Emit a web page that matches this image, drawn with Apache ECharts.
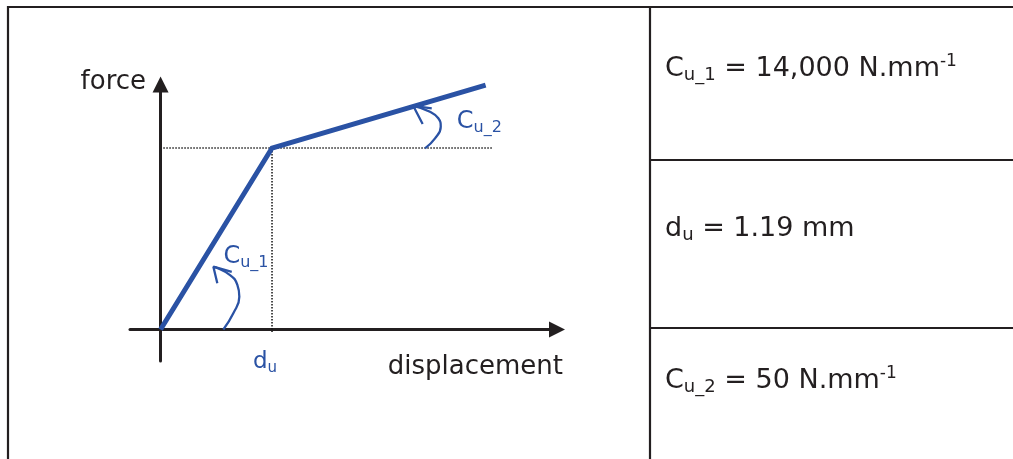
<!DOCTYPE html>
<html>
<head>
<meta charset="utf-8">
<script src="https://cdn.jsdelivr.net/npm/echarts@6/dist/echarts.min.js"></script>
<style>
  html, body { margin: 0; padding: 0; background: #ffffff; }
  #chart { width: 1013px; height: 459px; }
</style>
</head>
<body>
<div id="chart"></div>
<script>
// Bilinear force–displacement law of the connection (schematic diagram)
const displacement = [0, 1.19, 3.47];        // mm
const force = [0, 16660, 22440];             // N

// Dotted guides through the yield point
const guideHX = [0.03, 3.55];
const guideVY = [16660, -230];

// Curved arrows marking the two slopes
const arc1X = [0.670, 0.777, 0.841, 0.820, 0.742, 0.564];
const arc1Y = [0, 1490, 3010, 4090, 5000, 5770];
const head1X = [0.760, 0.564, 0.606];
const head1Y = [5300, 5770, 4240];
const arc2X = [2.823, 2.930, 2.991, 2.965, 2.876, 2.698];
const arc2Y = [16630, 17550, 18620, 19390, 19990, 20520];
const head2X = [2.895, 2.698, 2.798];
const head2Y = [20300, 20520, 18860];

// Axis extents (arrow heads sit at the max ends)
const xRange = [-0.326, 4.232];
const yRange = [-2890, 22490];

// Parameter table
const rowSymbols = ['C', 'd', 'C'];
const rowSubs = ['u_1', 'u', 'u_2'];
const rowValues = [14000, 1.19, 50];
const rowUnits = ['N.mm', 'mm', 'N.mm'];
const rowSups = ['-1', '', '-1'];

const BLUE = '#2a52a4';
const INK = '#231f20';
const FONT = '"DejaVu Sans", Verdana, sans-serif';

const zip = (xs, ys) => xs.map((x, i) => [x, ys[i]]);

const chart = echarts.init(document.getElementById('chart'), null, { renderer: 'canvas' });

const axisCommon = {
  type: 'value',
  axisTick: { show: false },
  axisLabel: { show: false },
  splitLine: { show: false },
  axisLine: {
    show: true,
    onZero: true,
    symbol: ['none', 'triangle'],
    symbolSize: [16, 16],
    lineStyle: { color: INK, width: 3 }
  }
};

const stroke = (color, width, type) => ({ color, width, type: type || 'solid', cap: 'butt' });
const DOTS = [1.4, 1.6];

chart.setOption({
  animation: false,
  backgroundColor: '#ffffff',
  grid: { left: 130, top: 84.5, width: 427, height: 276.5, outerBoundsMode: 'none', containLabel: false },
  xAxis: Object.assign({}, axisCommon, { min: xRange[0], max: xRange[1] }),
  yAxis: Object.assign({}, axisCommon, { min: yRange[0], max: yRange[1] }),
  series: [
    {
      name: 'guideH', type: 'line', silent: true, showSymbol: false, z: 2,
      data: zip(guideHX, [guideVY[0], guideVY[0]]),
      lineStyle: stroke('#111', 1.5, DOTS)
    },
    {
      name: 'guideV', type: 'line', silent: true, showSymbol: false, z: 2,
      data: zip([displacement[1], displacement[1]], guideVY),
      lineStyle: stroke('#111', 1.5, DOTS)
    },
    {
      name: 'force', type: 'line', silent: true, showSymbol: false, z: 5,
      data: zip(displacement, force),
      lineStyle: { color: BLUE, width: 5, join: 'miter', cap: 'butt' }
    },
    {
      name: 'arc1', type: 'line', silent: true, showSymbol: false, smooth: 0.5, z: 4,
      data: zip(arc1X, arc1Y), lineStyle: stroke(BLUE, 2.3)
    },
    {
      name: 'head1', type: 'line', silent: true, showSymbol: false, z: 4,
      data: zip(head1X, head1Y), lineStyle: stroke(BLUE, 2.3)
    },
    {
      name: 'arc2', type: 'line', silent: true, showSymbol: false, smooth: 0.5, z: 4,
      data: zip(arc2X, arc2Y), lineStyle: stroke(BLUE, 2.3)
    },
    {
      name: 'head2', type: 'line', silent: true, showSymbol: false, z: 4,
      data: zip(head2X, head2Y), lineStyle: stroke(BLUE, 2.3)
    }
  ]
});

// Text helpers: rich text with subscripts / superscripts, placed by baseline
function richStyles(size, color) {
  const sub = Math.round(size * 0.66);
  return {
    m: { fontSize: size, fontFamily: FONT, fill: color, color: color, lineHeight: size + 4 },
    sub: { fontSize: sub, fontFamily: FONT, fill: color, color: color, lineHeight: sub + 1, verticalAlign: 'bottom' },
    sup: { fontSize: sub - 1, fontFamily: FONT, fill: color, color: color, lineHeight: sub, verticalAlign: 'top' }
  };
}
function textAt(x, baseline, text, size, color, align) {
  return {
    type: 'text', x: x, y: baseline - 0.346 * size, silent: true, z: 100,
    style: {
      text: text, rich: richStyles(size, color),
      fontSize: size, fontFamily: FONT, fill: color,
      align: align || 'left', verticalAlign: 'middle',
      textAlign: align || 'left', textVerticalAlign: 'middle'
    }
  };
}
function hLine(x1, x2, y) {
  return { type: 'line', silent: true, z: 50, shape: { x1, y1: y, x2, y2: y }, style: { stroke: INK, lineWidth: 2.2 } };
}
function vLine(x, y1, y2) {
  return { type: 'line', silent: true, z: 50, shape: { x1: x, y1, x2: x, y2 }, style: { stroke: INK, lineWidth: 2.2 } };
}

const px = (x, y) => chart.convertToPixel({ gridIndex: 0 }, [x, y]);
const yTop = px(0, yRange[1]);
const xEnd = px(xRange[1], 0);
const duPt = px(displacement[1], 0);
const a1 = px(arc1X[arc1X.length - 1], arc1Y[arc1Y.length - 1]);
const a2 = px(arc2X[2], arc2Y[2]);

const graphics = [
  // table frame
  hLine(7, 1013, 7),
  vLine(8, 6, 459),
  vLine(650, 6, 459),
  hLine(650, 1013, 160),
  hLine(650, 1013, 328),
  // axis titles
  textAt(yTop[0] - 14.5, yTop[1] + 7.2, '{m|force}', 26, INK, 'right'),
  textAt(xEnd[0] + 6, xEnd[1] + 47, '{m|displacement}', 26, INK, 'right'),
  // annotations in the diagram
  textAt(duPt[0] - 19, duPt[1] + 40.5, '{m|d}{sub|u}', 23, BLUE, 'left'),
  textAt(a1[0] + 10, a1[1] - 1.7, '{m|C}{sub|u_1}', 24, BLUE, 'left'),
  textAt(a2[0] + 16, a2[1] + 3.3, '{m|C}{sub|u_2}', 24, BLUE, 'left')
];

const rowBaselines = [78.3, 238.3, 390];
rowSymbols.forEach((s, i) => {
  const val = rowValues[i].toLocaleString('en-US');
  let t = '{m|' + s + '}{sub|' + rowSubs[i] + '}{m| = ' + val + ' ' + rowUnits[i] + '}';
  if (rowSups[i]) t += '{sup|' + rowSups[i] + '}';
  graphics.push(textAt(665, rowBaselines[i], t, 27, INK, 'left'));
});

chart.setOption({ graphic: graphics });
</script>
</body>
</html>
